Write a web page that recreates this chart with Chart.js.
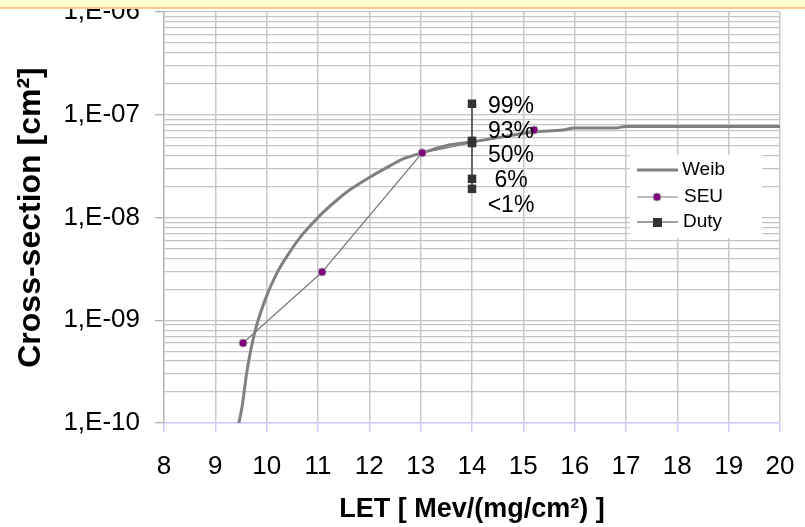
<!DOCTYPE html>
<html>
<head>
<meta charset="utf-8">
<script src="https://cdn.jsdelivr.net/npm/chart.js@4.4.0/dist/chart.umd.min.js"></script>
<style>
  html, body { margin: 0; padding: 0; background: #fff; }
  #wrap { position: relative; width: 805px; height: 527px; }
  #band { position: absolute; left: 0; top: 0; width: 805px; height: 7px;
          background: #ffffcc; border-bottom: 2px solid #fcc990; }
</style>
</head>
<body>
<div id="wrap">
  <canvas id="chart" width="805" height="527"></canvas>
  <div id="band"></div>
</div>
<script>
// Weibull fit
const weibX = [9.44, 9.52, 9.62, 9.77, 9.97, 10.20, 10.45, 10.64, 10.84, 11.10, 11.37, 11.62, 12.00, 12.40, 12.66, 13.03, 13.57, 14.00, 14.60, 15.21, 15.77, 16.00, 16.82, 16.98, 20.00];
const weibY = [9e-11, 1.43e-10, 3.28e-10, 7.7e-10, 1.58e-9, 2.89e-9, 4.62e-9, 6.3e-9, 8.2e-9, 1.12e-8, 1.48e-8, 1.86e-8, 2.45e-8, 3.18e-8, 3.72e-8, 4.26e-8, 5.1e-8, 5.45e-8, 6.1e-8, 6.8e-8, 7.1e-8, 7.45e-8, 7.45e-8, 7.7e-8, 7.7e-8];

// measured SEU points
const seuX = [9.54, 11.08, 13.03, 15.21];
const seuY = [6.0e-10, 2.95e-9, 4.26e-8, 7.1e-8];

// duty cycle points at LET 14
const dutyX = [14, 14, 14, 14, 14];
const dutyY = [1.28e-7, 5.57e-8, 5.3e-8, 2.38e-8, 1.9e-8];
const dutyLabels = ['99%', '93%', '50%', '6%', '<1%'];

const xTicks = [8, 9, 10, 11, 12, 13, 14, 15, 16, 17, 18, 19, 20];
const yDecades = [1e-10, 1e-9, 1e-8, 1e-7, 1e-6];
const yTickLabels = ['1,E-10', '1,E-09', '1,E-08', '1,E-07', '1,E-06'];

const FONT = '"Liberation Sans", Arial, sans-serif';

function pts(xs, ys) {
  return xs.map(function (x, i) { return { x: x, y: ys[i] }; });
}

function isDecade(v) {
  return yDecades.some(function (d) { return Math.abs(v - d) / d < 1e-6; });
}

const extras = {
  id: 'extras',
  afterDatasetsDraw: function (chart) {
    const ctx = chart.ctx;
    const xs = chart.scales.x, ys = chart.scales.y;
    // duty labels
    ctx.save();
    ctx.fillStyle = '#000';
    ctx.font = '23px ' + FONT;
    ctx.textAlign = 'center';
    ctx.textBaseline = 'middle';
    const lx = xs.getPixelForValue(dutyX[0]) + 39;
    const ly = ys.getPixelForValue(dutyY[0]) + 3;
    dutyLabels.forEach(function (t, i) {
      ctx.fillText(t, lx, ly + i * 24.7);
    });
    ctx.restore();
  },
  afterDraw: function (chart) {
    const ctx = chart.ctx;
    const a = chart.chartArea;
    const bx = a.right - 150, by = 155;
    ctx.save();
    ctx.fillStyle = '#fff';
    ctx.fillRect(bx, by, 132, 83);
    ctx.font = '19px ' + FONT;
    ctx.textBaseline = 'middle';
    ctx.textAlign = 'left';

    // Weib
    ctx.strokeStyle = '#808080';
    ctx.lineWidth = 3;
    ctx.beginPath(); ctx.moveTo(bx + 7, by + 15); ctx.lineTo(bx + 48, by + 15); ctx.stroke();
    ctx.fillStyle = '#000';
    ctx.fillText('Weib', bx + 52, by + 15);

    // SEU
    ctx.lineWidth = 1;
    ctx.beginPath(); ctx.moveTo(bx + 7, by + 42); ctx.lineTo(bx + 48, by + 42); ctx.stroke();
    ctx.beginPath(); ctx.arc(bx + 27, by + 42, 4, 0, Math.PI * 2);
    ctx.fillStyle = '#800080'; ctx.fill();
    ctx.strokeStyle = '#a0a0a0'; ctx.stroke();
    ctx.fillStyle = '#000';
    ctx.fillText('SEU', bx + 54, by + 42);

    // Duty
    ctx.strokeStyle = '#404040';
    ctx.lineWidth = 1.2;
    ctx.beginPath(); ctx.moveTo(bx + 7, by + 67); ctx.lineTo(bx + 48, by + 67); ctx.stroke();
    ctx.fillStyle = '#333';
    ctx.fillRect(bx + 23, by + 63, 9, 9);
    ctx.fillStyle = '#000';
    ctx.fillText('Duty', bx + 53, by + 67);
    ctx.restore();
  }
};

new Chart(document.getElementById('chart'), {
  type: 'line',
  data: {
    datasets: [
      {
        label: 'Weib',
        data: pts(weibX, weibY),
        borderColor: '#808080',
        borderWidth: 3,
        pointRadius: 0,
        cubicInterpolationMode: 'monotone',
        order: 3
      },
      {
        label: 'SEU',
        data: pts(seuX, seuY),
        borderColor: '#7a7a7a',
        borderWidth: 1.2,
        pointRadius: 4,
        pointBackgroundColor: '#800080',
        pointBorderColor: '#a0a0a0',
        pointBorderWidth: 1,
        tension: 0,
        order: 2
      },
      {
        label: 'Duty',
        data: pts(dutyX, dutyY),
        borderColor: '#404040',
        borderWidth: 1.5,
        pointStyle: 'rect',
        pointRadius: 6,
        pointBackgroundColor: '#333',
        pointBorderColor: '#333',
        pointBorderWidth: 0,
        tension: 0,
        order: 1
      }
    ]
  },
  options: {
    responsive: false,
    animation: false,
    events: [],
    layout: { padding: { top: 12, right: 25, left: 0, bottom: 0 } },
    plugins: {
      legend: { display: false },
      tooltip: { enabled: false }
    },
    scales: {
      x: {
        type: 'linear',
        min: 8,
        max: 20,
        afterBuildTicks: function (scale) {
          scale.ticks = xTicks.map(function (v) { return { value: v }; });
        },
        afterFit: function (scale) {
          scale.height = 104;
          scale.paddingLeft = 0;
          scale.paddingRight = 0;
        },
        grid: {
          color: '#c8c8c8',
          lineWidth: 1.5,
          tickColor: '#ccccff',
          tickLength: 9
        },
        border: { color: '#ccccff', width: 1.5 },
        ticks: {
          autoSkip: false,
          maxRotation: 0,
          padding: 19,
          color: '#000',
          font: { family: FONT, size: 26 }
        },
        title: {
          display: true,
          text: 'LET [ Mev/(mg/cm²) ]',
          color: '#000',
          font: { family: FONT, size: 27, weight: 'bold' },
          padding: { top: 0, bottom: 1 }
        }
      },
      y: {
        type: 'logarithmic',
        min: 1e-10,
        max: 1e-6,
        afterBuildTicks: function (scale) {
          const t = [];
          yDecades.forEach(function (d, i) {
            t.push({ value: d });
            if (i < yDecades.length - 1) {
              for (let k = 2; k <= 9; k++) t.push({ value: d * k });
            }
          });
          scale.ticks = t;
        },
        afterFit: function (scale) {
          scale.width = 164;
          scale.paddingTop = 0;
          scale.paddingBottom = 0;
        },
        grid: {
          color: function (c) {
            return (c.tick && Math.abs(c.tick.value - 1e-10) < 1e-16) ? '#ccccff' : '#c4c4c4';
          },
          lineWidth: 1.3,
          tickColor: function (c) {
            return (c.tick && isDecade(c.tick.value)) ? '#b0b0b0' : 'rgba(0,0,0,0)';
          },
          tickLength: 9
        },
        border: { color: '#b8b8b8', width: 1.3 },
        ticks: {
          autoSkip: false,
          padding: 15,
          color: '#000',
          font: { family: FONT, size: 26 },
          callback: function (v) {
            const i = yDecades.findIndex(function (d) { return Math.abs(v - d) / d < 1e-6; });
            return i >= 0 ? yTickLabels[i] : '';
          }
        },
        title: {
          display: true,
          text: 'Cross-section [cm²]',
          color: '#000',
          font: { family: FONT, size: 32, weight: 'bold' },
          padding: { top: 12, bottom: 0 }
        }
      }
    }
  },
  plugins: [extras]
});
</script>
</body>
</html>
